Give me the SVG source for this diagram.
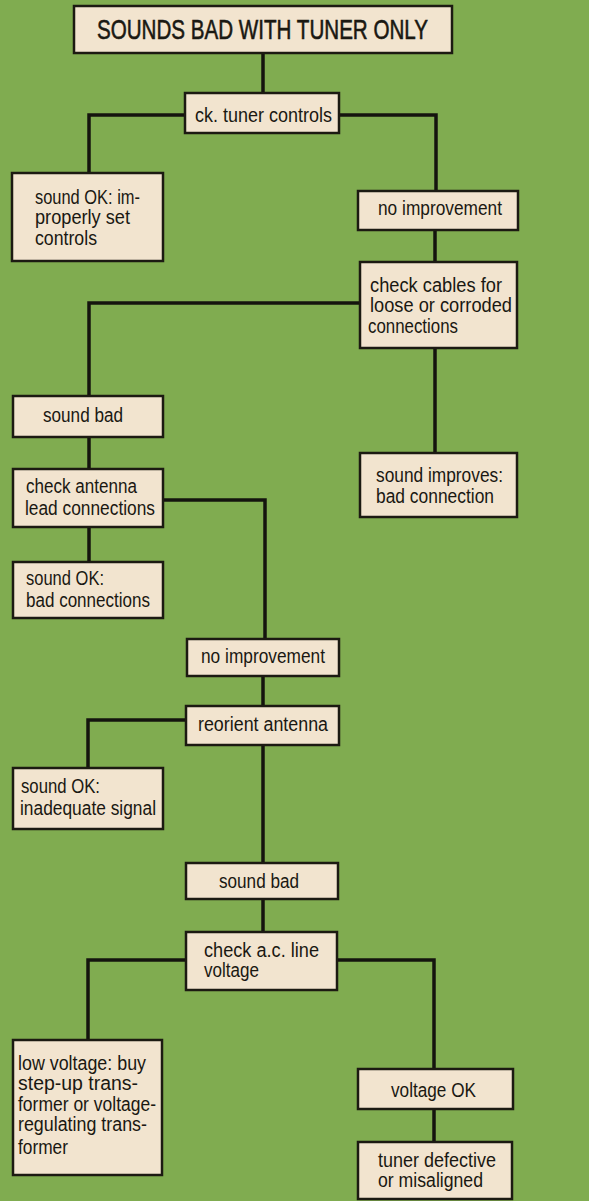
<svg xmlns="http://www.w3.org/2000/svg" width="589" height="1201" viewBox="0 0 589 1201">
<style>
.bg{fill:#80ac50}
.box{fill:#f2e4cf;stroke:#1c1a12;stroke-width:2.5}
.t{font-family:"Liberation Sans",Arial,sans-serif;font-size:20px;fill:#1a1812}
.title{font-family:"Liberation Sans",Arial,sans-serif;font-size:28px;fill:#1a1812;stroke:#1a1812;stroke-width:0.6}
.c{fill:none;stroke:#14140e;stroke-width:3.5;stroke-linejoin:miter}
</style>
<rect class="bg" x="0" y="0" width="589" height="1201"/>
<g id="connectors">
<path class="c" d="M263,53 V93"/>
<path class="c" d="M185,115 H89 V173"/>
<path class="c" d="M339,115 H436 V191"/>
<path class="c" d="M435,230 V262"/>
<path class="c" d="M360,303 H89 V396"/>
<path class="c" d="M435,348 V453"/>
<path class="c" d="M89,437 V469"/>
<path class="c" d="M163,500 H265 V639"/>
<path class="c" d="M89,527 V562"/>
<path class="c" d="M263,676 V706"/>
<path class="c" d="M186,720 H88 V768"/>
<path class="c" d="M263,745 V863"/>
<path class="c" d="M263,899 V932"/>
<path class="c" d="M186,960 H88 V1040"/>
<path class="c" d="M337,960 H434 V1069"/>
<path class="c" d="M434,1109 V1142"/>
</g>
<g id="n-title">
<rect class="box" x="74" y="6" width="378" height="47"/>
<text class="title" x="97" y="39" textLength="331" lengthAdjust="spacingAndGlyphs">SOUNDS BAD WITH TUNER ONLY</text>
</g>
<g id="n-ck-tuner">
<rect class="box" x="185" y="93" width="154" height="40"/>
<text class="t" x="195" y="122" textLength="137" lengthAdjust="spacingAndGlyphs">ck. tuner controls</text>
</g>
<g id="n-sound-ok-controls">
<rect class="box" x="12" y="173" width="151" height="88"/>
<text class="t" x="35" y="204" textLength="105" lengthAdjust="spacingAndGlyphs">sound OK: im-</text>
<text class="t" x="35" y="224" textLength="95" lengthAdjust="spacingAndGlyphs">properly set</text>
<text class="t" x="35" y="245" textLength="62" lengthAdjust="spacingAndGlyphs">controls</text>
</g>
<g id="n-no-improvement-1">
<rect class="box" x="358" y="191" width="160" height="39"/>
<text class="t" x="378" y="215" textLength="124" lengthAdjust="spacingAndGlyphs">no improvement</text>
</g>
<g id="n-check-cables">
<rect class="box" x="360" y="262" width="157" height="86"/>
<text class="t" x="370" y="292" textLength="132" lengthAdjust="spacingAndGlyphs">check cables for</text>
<text class="t" x="370" y="312" textLength="142" lengthAdjust="spacingAndGlyphs">loose or corroded</text>
<text class="t" x="368" y="333" textLength="90" lengthAdjust="spacingAndGlyphs">connections</text>
</g>
<g id="n-sound-bad-1">
<rect class="box" x="13" y="396" width="150" height="41"/>
<text class="t" x="43" y="422" textLength="80" lengthAdjust="spacingAndGlyphs">sound bad</text>
</g>
<g id="n-sound-improves">
<rect class="box" x="360" y="453" width="157" height="64"/>
<text class="t" x="376" y="482" textLength="127" lengthAdjust="spacingAndGlyphs">sound improves:</text>
<text class="t" x="376" y="503" textLength="118" lengthAdjust="spacingAndGlyphs">bad connection</text>
</g>
<g id="n-check-antenna">
<rect class="box" x="13" y="469" width="150" height="58"/>
<text class="t" x="26" y="493" textLength="111" lengthAdjust="spacingAndGlyphs">check antenna</text>
<text class="t" x="25" y="515" textLength="130" lengthAdjust="spacingAndGlyphs">lead connections</text>
</g>
<g id="n-sound-ok-connections">
<rect class="box" x="13" y="562" width="150" height="56"/>
<text class="t" x="26" y="585" textLength="78" lengthAdjust="spacingAndGlyphs">sound OK:</text>
<text class="t" x="26" y="607" textLength="124" lengthAdjust="spacingAndGlyphs">bad connections</text>
</g>
<g id="n-no-improvement-2">
<rect class="box" x="187" y="639" width="152" height="37"/>
<text class="t" x="201" y="663" textLength="124" lengthAdjust="spacingAndGlyphs">no improvement</text>
</g>
<g id="n-reorient">
<rect class="box" x="186" y="706" width="153" height="39"/>
<text class="t" x="198" y="731" textLength="130" lengthAdjust="spacingAndGlyphs">reorient antenna</text>
</g>
<g id="n-sound-ok-signal">
<rect class="box" x="13" y="768" width="150" height="61"/>
<text class="t" x="21" y="793" textLength="79" lengthAdjust="spacingAndGlyphs">sound OK:</text>
<text class="t" x="20" y="815" textLength="136" lengthAdjust="spacingAndGlyphs">inadequate signal</text>
</g>
<g id="n-sound-bad-2">
<rect class="box" x="186" y="863" width="152" height="36"/>
<text class="t" x="219" y="888" textLength="80" lengthAdjust="spacingAndGlyphs">sound bad</text>
</g>
<g id="n-check-ac">
<rect class="box" x="186" y="932" width="151" height="58"/>
<text class="t" x="204" y="957" textLength="115" lengthAdjust="spacingAndGlyphs">check a.c. line</text>
<text class="t" x="204" y="977" textLength="55" lengthAdjust="spacingAndGlyphs">voltage</text>
</g>
<g id="n-low-voltage">
<rect class="box" x="13" y="1040" width="149" height="135"/>
<text class="t" x="18" y="1070" textLength="128" lengthAdjust="spacingAndGlyphs">low voltage: buy</text>
<text class="t" x="18" y="1090" textLength="120" lengthAdjust="spacingAndGlyphs">step-up trans-</text>
<text class="t" x="18" y="1111" textLength="138" lengthAdjust="spacingAndGlyphs">former or voltage-</text>
<text class="t" x="18" y="1131" textLength="129" lengthAdjust="spacingAndGlyphs">regulating trans-</text>
<text class="t" x="18" y="1154" textLength="50" lengthAdjust="spacingAndGlyphs">former</text>
</g>
<g id="n-voltage-ok">
<rect class="box" x="358" y="1069" width="155" height="40"/>
<text class="t" x="391" y="1097" textLength="85" lengthAdjust="spacingAndGlyphs">voltage OK</text>
</g>
<g id="n-tuner-defective">
<rect class="box" x="358" y="1142" width="154" height="57"/>
<text class="t" x="378" y="1167" textLength="118" lengthAdjust="spacingAndGlyphs">tuner defective</text>
<text class="t" x="378" y="1187" textLength="105" lengthAdjust="spacingAndGlyphs">or misaligned</text>
</g>
</svg>
